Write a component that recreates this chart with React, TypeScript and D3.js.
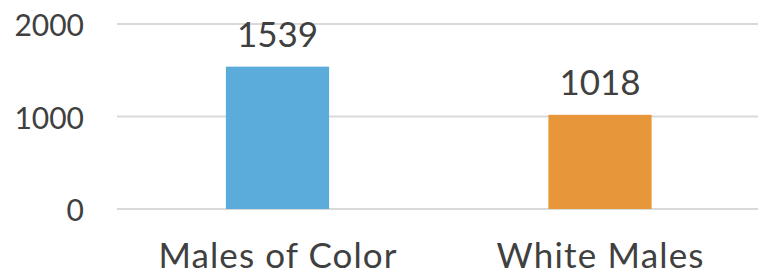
import React from "react";
import * as d3 from "d3";

const categories = ["Males of Color", "White Males"];
const values = [1539, 1018];
const colors = ["#5BACDA", "#E8963A"];
const yTicks = [0, 1000, 2000];
const categoryLabelWidths = [238, 207];

const W = 758;
const H = 273;
const FONT = "Lato, 'Open Sans', sans-serif";
const TEXT = "#404040";

export default function App() {
  const x = d3
    .scaleBand<string>()
    .domain(categories)
    .range([116.25, 761.25])
    .paddingInner(0.68)
    .paddingOuter(0.34);
  const y = d3.scaleLinear().domain([0, 2000]).range([209, 24]);

  return (
    <svg
      width={W}
      height={H}
      style={{ position: "absolute", left: 0, top: 0, background: "#fff" }}
    >
      {yTicks.map((t) => (
        <g key={t}>
          <line
            x1={117}
            x2={W}
            y1={y(t)}
            y2={y(t)}
            stroke="#D9D9D9"
            strokeWidth={2}
          />
          <text
            x={84}
            y={y(t)}
            textAnchor="end"
            dominantBaseline="central"
            fontFamily={FONT}
            fontSize={30}
            fill={TEXT}
          >
            {t}
          </text>
        </g>
      ))}
      {categories.map((c, i) => (
        <g key={c}>
          <rect
            x={x(c)!}
            y={y(values[i])}
            width={x.bandwidth()}
            height={y(0) - y(values[i])}
            fill={colors[i]}
          />
          <text
            x={x(c)! + x.bandwidth() / 2}
            y={y(values[i]) - 20}
            textAnchor="middle"
            fontFamily={FONT}
            fontSize={35}
            fill={TEXT}
          >
            {values[i]}
          </text>
          <text
            x={x(c)! + x.bandwidth() / 2}
            y={267.5}
            textAnchor="middle"
            fontFamily={FONT}
            fontSize={35}
            fill={TEXT}
            textLength={categoryLabelWidths[i]}
            lengthAdjust="spacing"
          >
            {c}
          </text>
        </g>
      ))}
    </svg>
  );
}
